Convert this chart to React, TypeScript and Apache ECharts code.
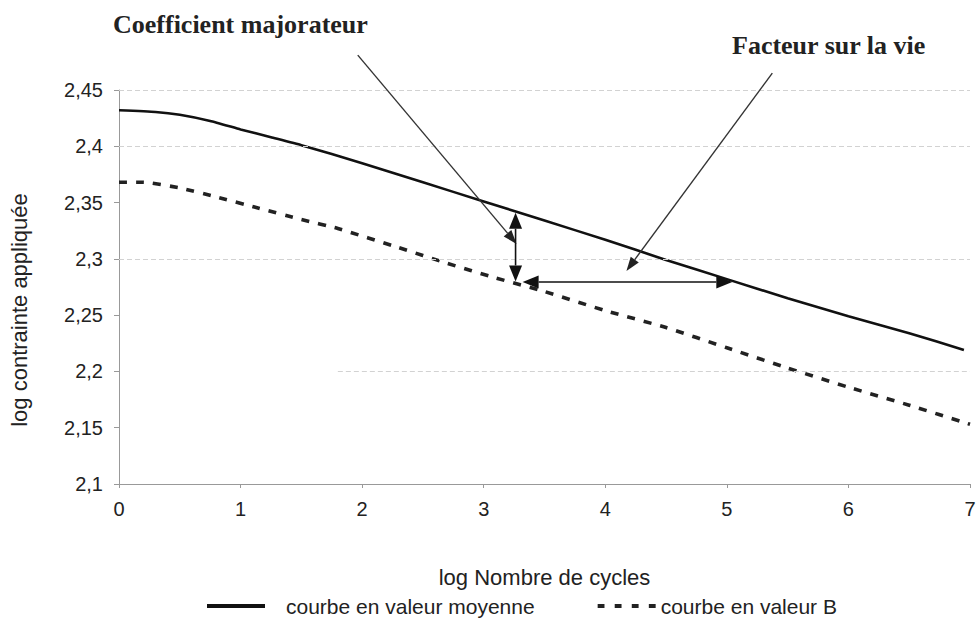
import React, { useEffect, useRef } from "react";
import * as echarts from "echarts";

// ---- data ----
const meanX = [0, 0.3, 0.5, 0.75, 1, 1.25, 1.5, 2, 2.5, 3, 3.5, 4, 4.5, 5, 5.5, 6, 6.5, 6.95];
const meanY = [2.432, 2.4305, 2.428, 2.4225, 2.415, 2.408, 2.401, 2.385, 2.368, 2.351, 2.334, 2.317, 2.299, 2.282, 2.265, 2.249, 2.234, 2.219];

const bX = [0, 0.2, 0.5, 0.8, 1.15, 1.5, 1.8, 2.3, 2.7, 3.1, 3.5, 4, 4.5, 5, 5.5, 6, 6.5, 7];
const bY = [2.368, 2.368, 2.363, 2.355, 2.345, 2.335, 2.327, 2.31, 2.296, 2.283, 2.271, 2.254, 2.239, 2.221, 2.203, 2.186, 2.17, 2.153];

const seriesNames = ["courbe en valeur moyenne", "courbe en valeur B"];
const xAxisName = "log Nombre de cycles";
const yAxisName = "log contrainte appliquée";
const annotationTitles = ["Coefficient majorateur", "Facteur sur la vie"];

// visible (scanned) grid lines
const gridLinesFull = [2.45, 2.4, 2.3];
const gridLinePartial = { from: 1.8, to: 7, y: 2.2 };

// annotation arrows, in data coordinates
const pointerArrows = [
  { from: [1.964, 2.481], to: [3.27, 2.3133] },
  { from: [5.374, 2.465], to: [4.174, 2.2893] },
];
const doubleArrows = [
  { from: [3.262, 2.341], to: [3.262, 2.2799] },
  { from: [3.32, 2.2795], to: [5.045, 2.2795] },
];

const FONT = "Liberation Sans, Arial, sans-serif";
const SERIF = "Liberation Serif, Times New Roman, serif";

const ICON_SOLID = "path://M0 0H58V4H0Z";
const ICON_DASH = "path://M0 0H6V4H0Z M15 0H21V4H15Z M30 0H36V4H30Z M45 0H51V4H45Z";

function fmtY(v: number) {
  let s = v.toFixed(2);
  if (s.endsWith("0")) s = s.slice(0, -1);
  return s.replace(".", ",");
}

function head(tip: number[], from: number[], len: number, wid: number) {
  const dx = tip[0] - from[0];
  const dy = tip[1] - from[1];
  const d = Math.hypot(dx, dy) || 1;
  const ux = dx / d, uy = dy / d;
  const bx = tip[0] - ux * len, by = tip[1] - uy * len;
  const nx = -uy, ny = ux;
  return {
    base: [bx, by],
    pts: [
      [tip[0], tip[1]],
      [bx + (nx * wid) / 2, by + (ny * wid) / 2],
      [bx - (nx * wid) / 2, by - (ny * wid) / 2],
    ],
  };
}

export default function App() {
  const ref = useRef<HTMLDivElement>(null);
  useEffect(() => {
    if (!ref.current) return;
    const chart = echarts.init(ref.current, undefined, { renderer: "svg" });
    const option: any = {
      animation: false,
      backgroundColor: "#ffffff",
      grid: { left: 118, right: 10, top: 90, bottom: 136 },
      xAxis: {
        type: "value",
        min: 0,
        max: 7,
        interval: 1,
        name: xAxisName,
        nameLocation: "middle",
        nameGap: 82,
        nameTextStyle: { fontSize: 22, fontFamily: FONT, color: "#222" },
        axisLine: { show: true, lineStyle: { color: "#999", width: 1 } },
        axisTick: { show: true, length: 4, lineStyle: { color: "#999" } },
        axisLabel: { fontSize: 20, fontFamily: FONT, color: "#222", margin: 15 },
        splitLine: { show: false },
      },
      yAxis: {
        type: "value",
        min: 2.1,
        max: 2.45,
        interval: 0.05,
        name: yAxisName,
        nameLocation: "middle",
        nameGap: 89,
        nameRotate: 90,
        nameTextStyle: { fontSize: 22, fontFamily: FONT, color: "#222", padding: [0, 46, 0, 0] },
        axisLine: { show: true, lineStyle: { color: "#999", width: 1 } },
        axisTick: { show: true, length: 5, lineStyle: { color: "#999" } },
        axisLabel: { fontSize: 20, fontFamily: FONT, color: "#222", margin: 16, formatter: fmtY },
        splitLine: { show: false },
      },
      legend: {
        left: 207,
        top: 595,
        padding: 0,
        itemWidth: 58,
        itemHeight: 4,
        symbolKeepAspect: false,
        itemGap: 63,
        textStyle: { fontSize: 21, lineHeight: 22, fontFamily: FONT, color: "#222", padding: [0, 0, 0, 16] },
        data: [
          { name: seriesNames[0], icon: ICON_SOLID, itemStyle: { color: "#111" } },
          {
            name: seriesNames[1],
            icon: ICON_DASH,
            itemStyle: { color: "#222" },
            textStyle: { fontSize: 21, lineHeight: 22, fontFamily: FONT, color: "#222", padding: [0, 0, 0, 0] },
          },
        ],
      },
      series: [
        {
          name: seriesNames[0],
          type: "line",
          data: meanX.map((x, i) => [x, meanY[i]]),
          smooth: 0.15,
          symbol: "none",
          lineStyle: { color: "#111", width: 2.6 },
          itemStyle: { color: "#111" },
          z: 3,
          markLine: {
            silent: true,
            symbol: "none",
            label: { show: false },
            lineStyle: { color: "#d2d2d2", type: [5, 3], width: 1 },
            data: [
              ...gridLinesFull.map((v) => ({ yAxis: v })),
              [{ coord: [gridLinePartial.from, gridLinePartial.y] }, { coord: [gridLinePartial.to, gridLinePartial.y] }],
            ],
          },
        },
        {
          name: seriesNames[1],
          type: "line",
          data: bX.map((x, i) => [x, bY[i]]),
          smooth: 0.15,
          symbol: "none",
          lineStyle: { color: "#222", width: 3.6, type: [8, 9] },
          itemStyle: { color: "#222" },
          z: 3,
        },
      ],
    };
    chart.setOption(option);

    const toPx = (p: number[]) => chart.convertToPixel({ gridIndex: 0 }, p) as number[];
    const graphics: any[] = [];
    pointerArrows.forEach((a) => {
      const p1 = toPx(a.from);
      const p2 = toPx(a.to);
      const h = head(p2, p1, 14, 10);
      graphics.push({
        type: "line",
        shape: { x1: p1[0], y1: p1[1], x2: h.base[0], y2: h.base[1] },
        style: { stroke: "#333", lineWidth: 1.4 },
        z: 10,
      });
      graphics.push({ type: "polygon", shape: { points: h.pts }, style: { fill: "#222" }, z: 10 });
    });
    doubleArrows.forEach((a) => {
      const p1 = toPx(a.from);
      const p2 = toPx(a.to);
      const h1 = head(p2, p1, 16, 13);
      const h2 = head(p1, p2, 16, 13);
      graphics.push({
        type: "line",
        shape: { x1: h2.base[0], y1: h2.base[1], x2: h1.base[0], y2: h1.base[1] },
        style: { stroke: "#111", lineWidth: 1.6 },
        z: 10,
      });
      graphics.push({ type: "polygon", shape: { points: h1.pts }, style: { fill: "#111" }, z: 10 });
      graphics.push({ type: "polygon", shape: { points: h2.pts }, style: { fill: "#111" }, z: 10 });
    });
    const titlePos = [
      [113, 24],
      [732, 45],
    ];
    annotationTitles.forEach((t, i) => {
      graphics.push({
        type: "text",
        x: titlePos[i][0],
        y: titlePos[i][1],
        style: {
          text: t,
          fontFamily: SERIF,
          fontWeight: "bold",
          fontSize: 26,
          fill: "#222",
          verticalAlign: "middle",
        },
        z: 10,
      });
    });
    chart.setOption({ graphic: graphics });

    return () => chart.dispose();
  }, []);
  return <div ref={ref} style={{ position: "fixed", left: 0, top: 0, width: 980, height: 620 }} />;
}
